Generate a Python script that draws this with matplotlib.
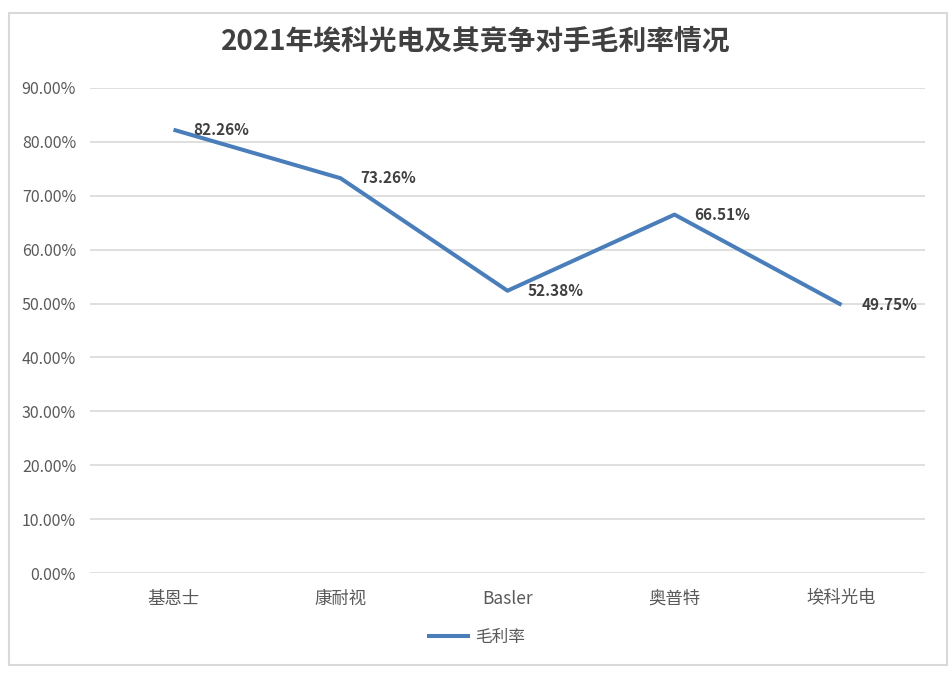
import matplotlib.pyplot as plt
from matplotlib.patches import Rectangle

plt.rcParams['font.family'] = ['Noto Sans CJK SC', 'DejaVu Sans']

# Data
companies = ['基恩士', '康耐视', 'Basler', '奥普特', '埃科光电']
gross_margin = [82.26, 73.26, 52.38, 66.51, 49.75]
y_ticks = [0, 10, 20, 30, 40, 50, 60, 70, 80, 90]

LINE_COLOR = '#4A7EBB'
GRID_COLOR = '#D9D9D9'
TEXT_COLOR = '#595959'

fig = plt.figure(figsize=(9.52, 6.75), dpi=100)
ax = fig.add_axes([90 / 952, 1 - 573 / 675, 835 / 952, (573 - 88) / 675])

x = list(range(len(companies)))
ax.plot(x, gross_margin, color=LINE_COLOR, linewidth=2.9, label='毛利率',
        solid_capstyle='butt')

for xi, v in zip(x, gross_margin):
    ax.annotate(f"{v:.2f}%", (xi, v), xytext=(20, 0), textcoords='offset pixels',
                ha='left', va='center', fontsize=11, fontweight='bold', color='#404040')

ax.set_xlim(-0.5, len(companies) - 0.5)
ax.set_ylim(0, 90)
ax.set_yticks(y_ticks)
ax.set_yticklabels([f"{t:.2f}%" for t in y_ticks])
ax.set_xticks(x)
ax.set_xticklabels(companies)
ax.grid(axis='y', color=GRID_COLOR, linewidth=1.2)
ax.set_axisbelow(True)
for s in ax.spines.values():
    s.set_visible(False)
ax.tick_params(axis='both', length=0, labelcolor=TEXT_COLOR, labelsize=11.5)
ax.tick_params(axis='x', pad=12, labelsize=12.5)
ax.tick_params(axis='y', pad=10)

fig.text(476 / 952, 1 - 42 / 675, '2021年埃科光电及其竞争对手毛利率情况',
         ha='center', va='center', fontsize=20, fontweight='bold', color='#404040')

leg = fig.legend(loc='center', bbox_to_anchor=(476 / 952, 1 - 637 / 675), frameon=False,
                 fontsize=12, handlelength=2.6, handletextpad=0.3)
for t in leg.get_texts():
    t.set_color(TEXT_COLOR)

fig.patches.append(Rectangle((9 / 952, 1 - 665 / 675), 938 / 952, 652 / 675,
                             transform=fig.transFigure, fill=False,
                             edgecolor=GRID_COLOR, linewidth=1.5))

fig.savefig('out.png', dpi=100, facecolor='white')
